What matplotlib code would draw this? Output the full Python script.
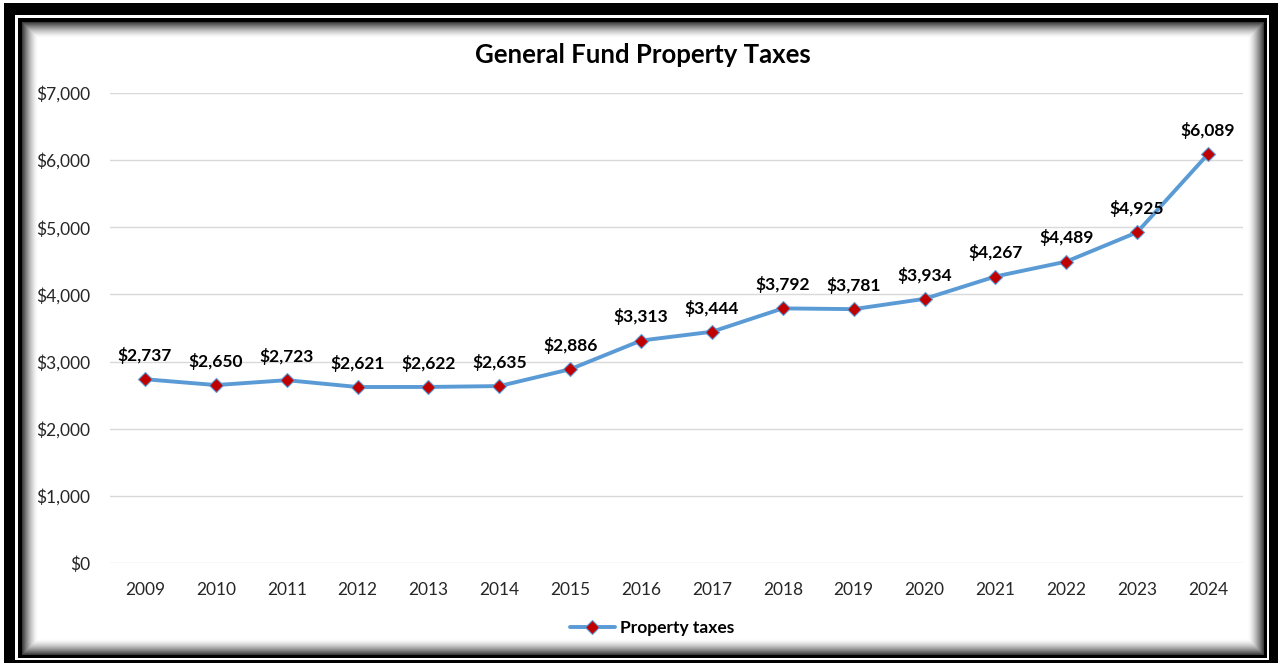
import numpy as np
import matplotlib
matplotlib.use("Agg")
import matplotlib.pyplot as plt
from matplotlib.ticker import FuncFormatter

years = ["2009", "2010", "2011", "2012", "2013", "2014", "2015", "2016",
         "2017", "2018", "2019", "2020", "2021", "2022", "2023", "2024"]
property_taxes = [2737, 2650, 2723, 2621, 2622, 2635, 2886, 3313,
                  3444, 3792, 3781, 3934, 4267, 4489, 4925, 6089]
y_ticks = [0, 1000, 2000, 3000, 4000, 5000, 6000, 7000]

plt.rcParams["font.family"] = ["Lato", "DejaVu Sans"]

W, H = 1281, 666
fig = plt.figure(figsize=(W / 100, H / 100), dpi=100)

# ---- picture frame: double black border with inner soft shadow ----
yy, xx = np.mgrid[0:H, 0:W] + 0.5
img = np.ones((H, W, 3))

def inside(x0, y0, x1, y1):
    return (xx >= x0) & (xx < x1) & (yy >= y0) & (yy < y1)

outer = inside(4, 3, 1278, 663) & ~inside(15, 15, 1269, 660)
inner = inside(18, 18, 1267, 658) & ~inside(22, 22, 1264, 655)
img[outer] = 0.0
img[inner] = 0.0

core = inside(22, 22, 1264, 655)
d = np.minimum.reduce([xx - 22, 1264 - xx, yy - 22, 655 - yy])
shade = np.clip(1 - d / 16.0, 0, 1) ** 1.5 * 0.8
img[core] = (1 - shade[core])[:, None]

bg = fig.add_axes([0, 0, 1, 1], zorder=0)
bg.imshow(img, extent=(0, W, H, 0), interpolation="nearest", aspect="auto")
bg.set_xlim(0, W)
bg.set_ylim(H, 0)
bg.axis("off")

# ---- main line chart ----
left_px, right_px, top_px, bot_px = 109.6, 1243.4, 93, 563
ax = fig.add_axes([left_px / W, 1 - bot_px / H,
                   (right_px - left_px) / W, (bot_px - top_px) / H], zorder=1)
ax.set_facecolor("none")

x = np.arange(len(years))
ax.plot(x, property_taxes, color="#5B9BD5", lw=2.8, marker="D",
        markersize=7, markerfacecolor="#C00000", markeredgecolor="#5B9BD5",
        markeredgewidth=0.8, label="Property taxes", zorder=3,
        solid_capstyle="round")

for xi, v in zip(x, property_taxes):
    ax.annotate(f"${v:,}", (xi, v), xytext=(0, 17), textcoords="offset points",
                ha="center", va="center", fontsize=12.5, fontweight="bold",
                color="black")

ax.set_xlim(-0.5, len(years) - 0.5)
ax.set_ylim(0, 7000)
ax.set_xticks(x)
ax.set_xticklabels(years)
ax.set_yticks(y_ticks)
ax.yaxis.set_major_formatter(FuncFormatter(lambda v, p: f"${int(v):,}"))
ax.tick_params(axis="both", length=0, labelsize=12.5, labelcolor="#262626")
ax.tick_params(axis="y", pad=14)
ax.tick_params(axis="x", pad=14)
ax.grid(axis="y", color="#D9D9D9", lw=1)
ax.set_axisbelow(True)
for s in ax.spines.values():
    s.set_visible(False)

fig.text(643 / W, 1 - 55 / H, "General Fund Property Taxes", ha="center",
         va="center", fontsize=18.5, fontweight="bold", color="black")

fig.legend(loc="center", bbox_to_anchor=(652 / W, 1 - 628 / H), frameon=False,
           prop={"size": 12.5, "weight": "bold"}, handlelength=2.6,
           handletextpad=0.3)

fig.savefig("out.png", dpi=100)
